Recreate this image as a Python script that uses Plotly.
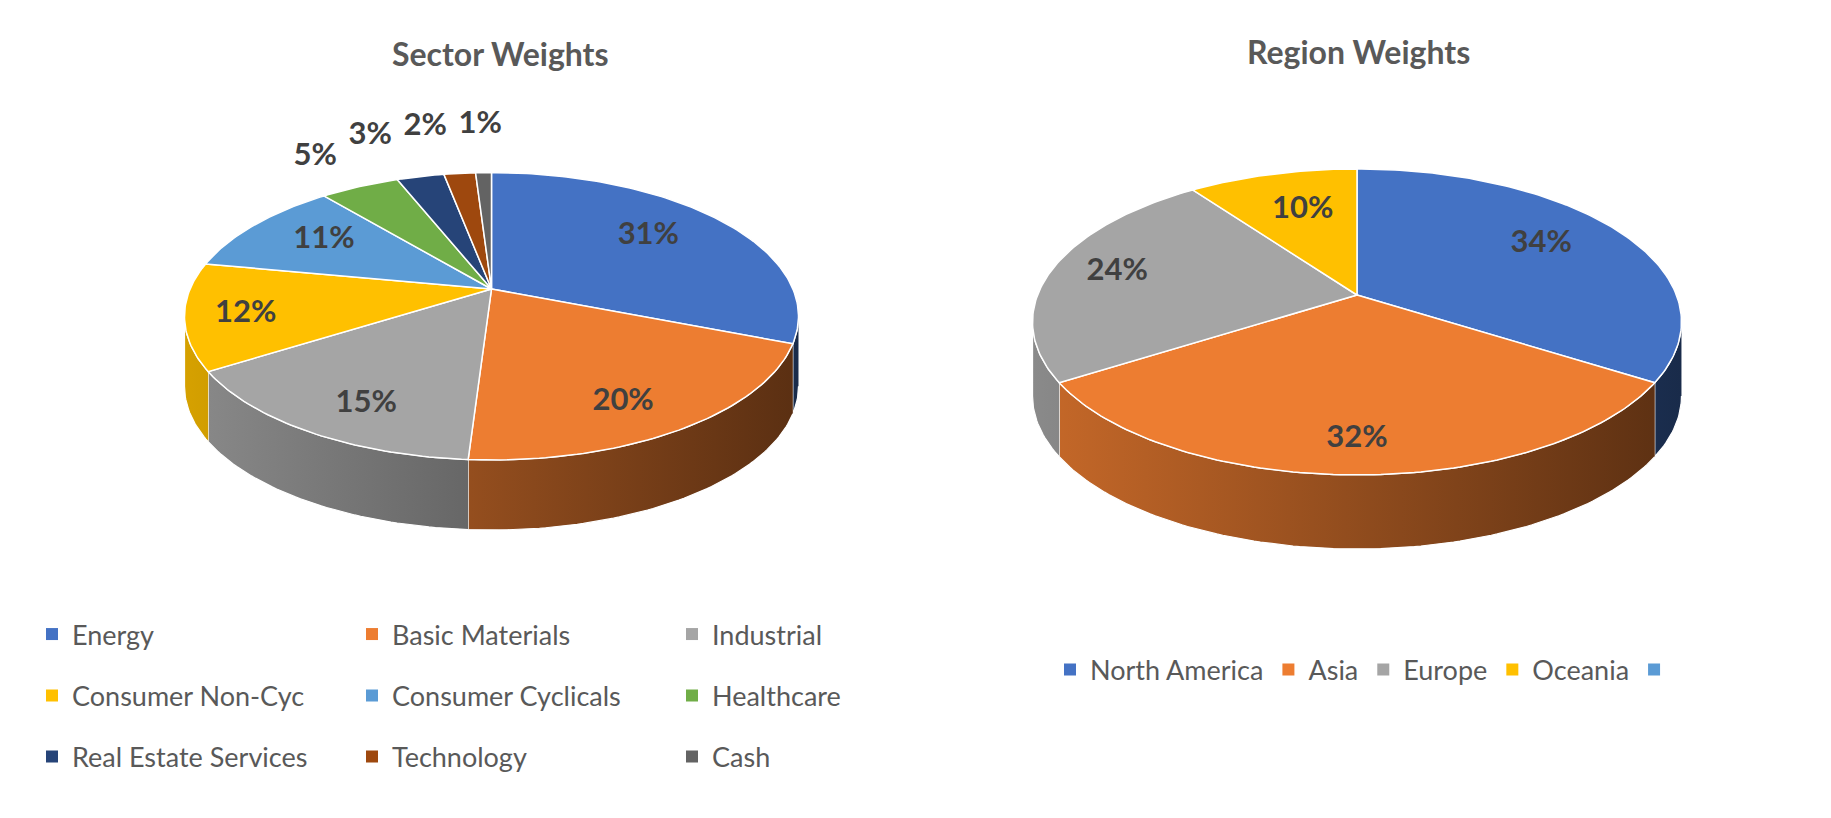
import math
import plotly.graph_objects as go

# Sector pie
sector_names = ["Energy", "Basic Materials", "Industrial", "Consumer Non-Cyc",
                "Consumer Cyclicals", "Healthcare", "Real Estate Services",
                "Technology", "Cash"]
sector_weights = [31, 20, 15, 12, 11, 5, 3, 2, 1]
sector_colors = ["#4472C4", "#ED7D31", "#A5A5A5", "#FFC000", "#5B9BD5",
                 "#70AD47", "#264478", "#9E480E", "#636363"]

# Region pie (last legend entry is blank in the source sheet)
region_names = ["North America", "Asia", "Europe", "Oceania", ""]
region_weights = [34, 32, 24, 10, 0]
region_colors = ["#4472C4", "#ED7D31", "#A5A5A5", "#FFC000", "#5B9BD5"]

W, H = 1831, 818
PAD = 8  # default body margin of the page

FONT = "Lato"
TEXT_GREY = "#595959"
LABEL_GREY = "#404040"

# geometry of the two tilted pies, in screen pixels
left_pie = dict(cx=491.5, cy=289, a=301.4, b=138.5, k=0.19, depth=70)
right_pie = dict(cx=1357, cy=295, a=319.4, b=148.3, k=0.176, depth=74)

fig = go.Figure()


def shade(hexcol, f):
    r, g, b = (int(hexcol[i:i + 2], 16) for i in (1, 3, 5))
    return "rgb(%d,%d,%d)" % (r * f, g * f, b * f)


def project(p, r, theta):
    # theta clockwise from 12 o'clock, simple perspective (far side smaller)
    u = r * math.sin(theta)
    v = r * math.cos(theta)
    w = 1 + p["k"] * v
    return p["cx"] + p["a"] * u / w, p["cy"] - p["b"] * v / w


def arc(p, t0, t1, r=1.0):
    n = max(2, int(math.degrees(t1 - t0)))
    pts = [project(p, r, t0 + (t1 - t0) * i / n) for i in range(n + 1)]
    return [q[0] for q in pts], [q[1] for q in pts]


def draw_pie(p, weights, colors):
    total = sum(weights)
    edges = [0.0]
    for w in weights:
        edges.append(edges[-1] + w / total * 2 * math.pi)

    # side wall only shows between the two horizontal extremes of the rim
    vis_lo = math.acos(-p["k"])
    vis_hi = 2 * math.pi - vis_lo
    half = p["a"] / math.sqrt(1 - p["k"] ** 2)
    x_left, x_right = p["cx"] - half, p["cx"] + half

    for w, c, t0, t1 in zip(weights, colors, edges[:-1], edges[1:]):
        lo, hi = max(t0, vis_lo), min(t1, vis_hi)
        if w == 0 or lo >= hi:
            continue
        xs, ys = arc(p, lo, hi)
        fig.add_trace(go.Scatter(
            x=xs + xs[::-1],
            y=ys + [y + p["depth"] for y in ys[::-1]],
            mode="lines", fill="toself",
            line=dict(color="white", width=1.2),
            fillgradient=dict(type="horizontal",
                              colorscale=[[0, shade(c, 0.84)], [1, shade(c, 0.38)]],
                              start=x_left, stop=x_right),
            hoverinfo="skip", showlegend=False))

    for w, c, t0, t1 in zip(weights, colors, edges[:-1], edges[1:]):
        if w == 0:
            continue
        xs, ys = arc(p, t0, t1)
        fig.add_trace(go.Scatter(
            x=[p["cx"]] + xs + [p["cx"]],
            y=[p["cy"]] + ys + [p["cy"]],
            mode="lines", fill="toself", fillcolor=c,
            line=dict(color="white", width=1.5),
            hoverinfo="skip", showlegend=False))

    # data labels: inside for big slices, above the rim for small ones
    lx, ly, lt = [], [], []
    outside = []
    for w, t0, t1 in zip(weights, edges[:-1], edges[1:]):
        if w == 0:
            continue
        pct = w / total * 100
        mid = (t0 + t1) / 2
        c, s = math.cos(mid), math.sin(mid)
        if pct >= 8:
            # back slices sit closer to the centre, side slices further out
            r = 0.72 - 0.12 * max(0.0, c) + 0.1 * s ** 8
            x, y = project(p, r, mid)
            y += p["depth"] * (0.3 * max(0.0, -c) - 0.1 * max(0.0, c))
        else:
            rx, ry = project(p, 1.0, mid)
            dx, dy = rx - p["cx"], ry - p["cy"]
            d = math.hypot(dx, dy)
            x, y = rx + 48 * dx / d, ry + 48 * dy / d
            outside.append(len(lx))
        lx.append(x)
        ly.append(y)
        lt.append("%d%%" % round(pct))
    # push crowded outside labels apart, working back from the top
    prev = None
    for i in reversed(outside):
        if prev is not None and lx[i] > prev - 55:
            lx[i] = prev - 55
        prev = lx[i]
    fig.add_trace(go.Scatter(
        x=lx, y=ly, text=lt, mode="text",
        textfont=dict(family=FONT, size=31, color=LABEL_GREY, weight="bold"),
        hoverinfo="skip", showlegend=False))


def add_legend_entries(names, colors, legend_id):
    for n, c in zip(names, colors):
        fig.add_trace(go.Scatter(
            x=[None], y=[None], mode="markers", name=n,
            marker=dict(symbol="square", size=12, color=c),
            legend=legend_id, showlegend=True))


draw_pie(left_pie, sector_weights, sector_colors)
draw_pie(right_pie, region_weights, region_colors)

legend_ids = ["legend", "legend2", "legend3"]
for r in range(3):
    add_legend_entries(sector_names[r * 3:r * 3 + 3], sector_colors[r * 3:r * 3 + 3], legend_ids[r])
add_legend_entries(region_names, region_colors, "legend4")


def px_x(x):
    return (x - PAD) / (W - 2 * PAD)


def px_y(y):
    return 1 - (y - PAD) / (H - 2 * PAD)


def legend_style(x, y, entrywidth):
    return dict(orientation="h", x=px_x(x), y=px_y(y), xanchor="left", yanchor="middle",
                font=dict(family=FONT, size=27, color=TEXT_GREY),
                bgcolor="rgba(0,0,0,0)", entrywidth=entrywidth, entrywidthmode="pixels",
                itemclick=False, itemdoubleclick=False)


fig.update_layout(
    width=W - 2 * PAD, height=H - 2 * PAD,
    margin=dict(l=0, r=0, t=0, b=0),
    paper_bgcolor="white", plot_bgcolor="white",
    xaxis=dict(range=[PAD, W - PAD], visible=False, fixedrange=True),
    yaxis=dict(range=[H - PAD, PAD], visible=False, fixedrange=True),
    legend=legend_style(32, 634.5, 275),
    legend2=legend_style(32, 696, 275),
    legend3=legend_style(32, 757, 275),
    legend4=legend_style(1050, 670, 0),
    annotations=[
        dict(text="Sector Weights", x=500, y=53, xref="x", yref="y", showarrow=False,
             font=dict(family=FONT, size=32, color=TEXT_GREY, weight="bold")),
        dict(text="Region Weights", x=1358, y=51, xref="x", yref="y", showarrow=False,
             font=dict(family=FONT, size=32, color=TEXT_GREY, weight="bold")),
    ],
)

fig.write_html("out.html")
